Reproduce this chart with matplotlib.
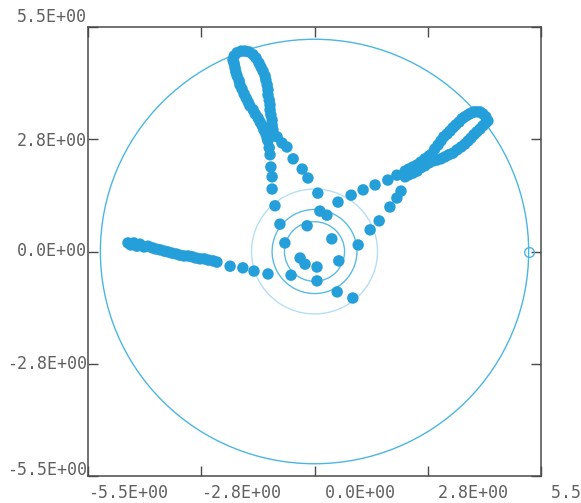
import matplotlib
matplotlib.use("Agg")
import matplotlib.pyplot as plt
from matplotlib.patches import Circle
from matplotlib.transforms import ScaledTranslation, blended_transform_factory

# tick values and labels
ticks = [-5.5, -2.75, 0.0, 2.75, 5.5]
x_labels = ["-5.5E+00", "-2.8E+00", " 0.0E+00", " 2.8E+00", " 5.5E+00"]
y_labels = ["-5.5E+00", "-2.8E+00", "0.0E+00", "2.8E+00", "5.5E+00"]

# reference circles (radius) and marker on the big one
circle_r = [5.2, 1.53, 1.03, 0.73]
circle_colors = ["#4cb6e2", "#b5dff2", "#5cbbe3", "#5cbbe3"]
probe_x = [5.2]
probe_y = [0.0]

# left arm
left_x = [-4.53, -4.46, -4.39, -4.31, -4.24, -4.14, -4.04, -3.94, -3.85, -3.75, -3.65, -3.56,
          -3.46, -3.36, -3.27, -3.17, -3.07, -2.97, -2.88, -2.78, -2.68, -2.58, -2.46, -2.37,
          -2.05, -1.74, -1.47, -1.13]
left_y = [0.21, 0.16, 0.21, 0.13, 0.18, 0.11, 0.13, 0.09, 0.06, 0.04, 0.01, -0.01,
          -0.04, -0.06, -0.09, -0.11, -0.11, -0.13, -0.16, -0.18, -0.18, -0.21, -0.23, -0.26,
          -0.36, -0.40, -0.48, -0.55]

# core points round the centre
core_x = [-0.96, -0.84, -0.72, -0.57, -0.35, -0.23, 0.06, 0.06, 0.55, 0.93, -0.18, 0.13, 0.30,
          0.42, 0.59, 1.06, 0.57, 0.89, 1.18, 1.47, 1.78, 2.00,
          1.35, 1.57, 1.83, 2.00, 2.10]
core_y = [1.12, 0.67, 0.21, -0.58, -0.16, -0.31, -0.38, -0.72, -0.99, -1.14, 0.63, 0.99, 0.89,
          0.31, -0.23, 0.16, 1.21, 1.38, 1.51, 1.63, 1.75, 1.87,
          0.53, 0.75, 1.09, 1.31, 1.48]

# upper arm with its loop
top_x = [-1.98, -1.95, -1.88, -1.78, -1.69, -1.59, -1.49, -1.42,
         -1.35, -1.30, -1.25, -1.20, -1.18, -1.15, -1.13, -1.13, -1.10, -1.08, -1.08, -1.06,
         -1.03, -1.03, -1.01,
         -1.95, -1.93, -1.91, -1.88, -1.83, -1.81, -1.76, -1.71, -1.66, -1.61, -1.57, -1.49,
         -1.44, -1.37, -1.32, -1.27, -1.23, -1.18,
         -1.15, -1.13, -1.10, -1.08, -1.06, -1.03, -1.03,
         -0.91, -0.79, -0.67, -0.52, -0.30, -0.16, 0.08]
top_y = [4.69, 4.79, 4.87, 4.91, 4.91, 4.89, 4.82, 4.74,
         4.62, 4.52, 4.42, 4.30, 4.20, 4.08, 3.96, 3.84, 3.71, 3.59, 3.47, 3.35,
         3.22, 3.10, 2.98,
         4.60, 4.50, 4.40, 4.30, 4.18, 4.08, 3.98, 3.86, 3.76, 3.66, 3.57, 3.47,
         3.37, 3.27, 3.17, 3.08, 2.98, 2.88,
         2.78, 2.71, 2.54, 2.37, 2.07, 1.83, 1.53,
         2.81, 2.66, 2.56, 2.27, 2.02, 1.80, 1.43]

# right arm with its loop
right_x = [2.20, 2.29, 2.39, 2.49, 2.58, 2.68, 2.78,
           2.20, 2.29, 2.39, 2.49, 2.58, 2.68, 2.78,
           2.85, 2.92, 3.00, 3.07, 3.14, 3.22, 3.29, 3.36, 3.43, 3.51, 3.58, 3.65, 3.73,
           3.80, 3.87, 3.94, 4.02, 4.09, 4.16, 4.21,
           2.88, 2.97, 3.07, 3.17, 3.26, 3.36, 3.46, 3.56, 3.65, 3.73, 3.80, 3.87, 3.94,
           4.02, 4.09, 4.16]
right_y = [1.97, 2.02, 2.07, 2.12, 2.19, 2.27, 2.34,
           1.83, 1.88, 1.92, 1.97, 2.05, 2.10, 2.17,
           2.39, 2.51, 2.61, 2.71, 2.81, 2.88, 2.95, 3.03, 3.10, 3.17, 3.25, 3.30, 3.35,
           3.39, 3.42, 3.42, 3.42, 3.37, 3.30, 3.20,
           2.22, 2.24, 2.27, 2.32, 2.37, 2.41, 2.49, 2.56, 2.63, 2.71, 2.78, 2.86, 2.93,
           3.00, 3.08, 3.15]

dot_color = "#259fd9"
frame_color = "#4a4a4a"
text_color = "#606060"

fig = plt.figure(figsize=(5.81, 5.03), dpi=100)
ax = fig.add_axes([0.1515, 0.0537, 0.7797, 0.8926])
ax.set_xlim(-5.5, 5.5)
ax.set_ylim(-5.5, 5.5)

for r, c in zip(circle_r, circle_colors):
    ax.add_patch(Circle((0, 0), r, fill=False, edgecolor=c, linewidth=1.0, zorder=1))
ax.plot(probe_x, probe_y, "o", mfc="none", mec="#4cb6e2", ms=7, mew=1.0, zorder=2)

for xs, ys in [(left_x, left_y), (core_x, core_y), (top_x, top_y), (right_x, right_y)]:
    ax.scatter(xs, ys, s=68, color=dot_color, edgecolors="none", zorder=3)

for side in ax.spines.values():
    side.set_color(frame_color)
    side.set_linewidth(1.1)

ax.set_xticks(ticks)
ax.set_yticks(ticks)
ax.tick_params(direction="in", length=7, width=1.0, color=frame_color,
               top=True, right=True, labelbottom=False, labelleft=False)

mono = "DejaVu Sans Mono"
xt = blended_transform_factory(ax.transData, ax.transAxes)
for v, lab in zip(ticks, x_labels):
    ax.text(v, 0, lab, transform=xt + ScaledTranslation(0, -6 / 72, fig.dpi_scale_trans),
            ha="left", va="top", family=mono, fontsize=12, color=text_color, clip_on=False)

yt = blended_transform_factory(ax.transAxes, ax.transData)
y_shift = [4, 0, 0, -1, 7]
for v, lab, dy in zip(ticks, y_labels, y_shift):
    ax.text(0, v, lab, transform=yt + ScaledTranslation(-1 / 72, dy / 72, fig.dpi_scale_trans),
            ha="right", va="center", family=mono, fontsize=12, color=text_color, clip_on=False)

fig.savefig("out.png", dpi=100)
